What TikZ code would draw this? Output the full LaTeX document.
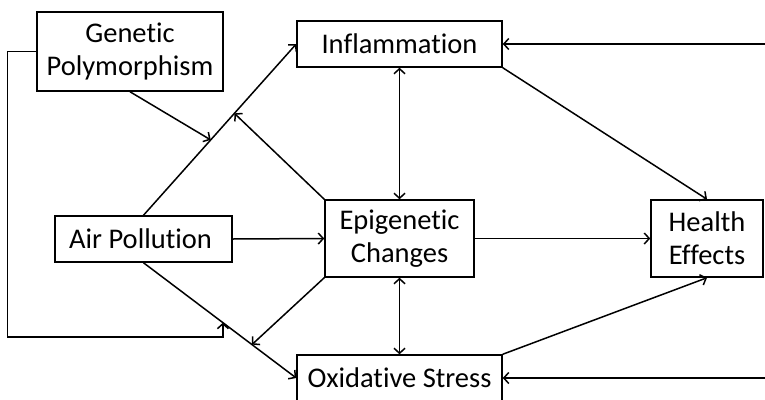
\documentclass[tikz,border=0pt]{standalone}
\usepackage{fontspec}
\setmainfont{Carlito}[Ligatures=NoCommon]
\usetikzlibrary{arrows.meta,calc}
\begin{document}
\begin{tikzpicture}[x=1pt,y=-1pt,line width=1.5pt,
  >={Straight Barb[length=5pt,width=11pt]},
  box/.style={draw,inner sep=0pt,align=center,font=\fontsize{28.5}{33}\selectfont}]
\useasboundingbox (0,0) rectangle (765,399);
\node[box,minimum width=186pt,minimum height=79pt] (gen) at (130,51.5) {Genetic\\Polymorphism};
\node[box,minimum width=205pt,minimum height=46pt] (infl) at (399.5,44) {Inflammation};
\node[box,minimum width=177pt,minimum height=46pt] (air) at (143.5,239) {Air Pollution\hspace{6pt}};
\node[box,minimum width=149pt,minimum height=77pt] (epi) at (399.5,238.5) {Epigenetic\\Changes};
\node[box,minimum width=112pt,minimum height=77pt] (health) at (707,238.5) {Health\\Effects};
\node[box,minimum width=205pt,minimum height=46pt] (oxid) at (399.5,378) {Oxidative Stress};
% points on the two pathways
\coordinate (pgen) at ($(air.north)!0.44!(infl.west)$);
\coordinate (pepi) at ($(air.north)!0.595!(infl.west)$);
\coordinate (pfb) at ($(air.south)!0.52!(oxid.west)$);
\coordinate (pepi2) at ($(air.south)!0.71!(oxid.west)$);
\coordinate (fbc) at (0,337);
\coordinate (rtop) at (765,44);
\coordinate (rbot) at (765,378);
\draw[->] (air.north) -- (infl.west);
\draw[->] (air.south) -- (oxid.west);
\draw[->] (air.east) -- (epi.west);
\draw[->] (gen.south) -- (pgen);
\draw[->] (epi.north west) -- (pepi);
\draw[->] (epi.south west) -- (pepi2);
\draw[->] (gen.west) -- ++(-29,0) |- (pfb |- fbc) -- (pfb);
\draw[<->] (infl.south) -- (epi.north);
\draw[<->] (epi.south) -- (oxid.north);
\draw[->] (infl.south east) -- (health.north);
\draw[->] (epi.east) -- (health.west);
\draw[->] (oxid.north east) -- (health.south);
\draw[->] (rtop) -- (infl.east);
\draw[->] (rbot) -- (oxid.east);
\end{tikzpicture}
\end{document}
